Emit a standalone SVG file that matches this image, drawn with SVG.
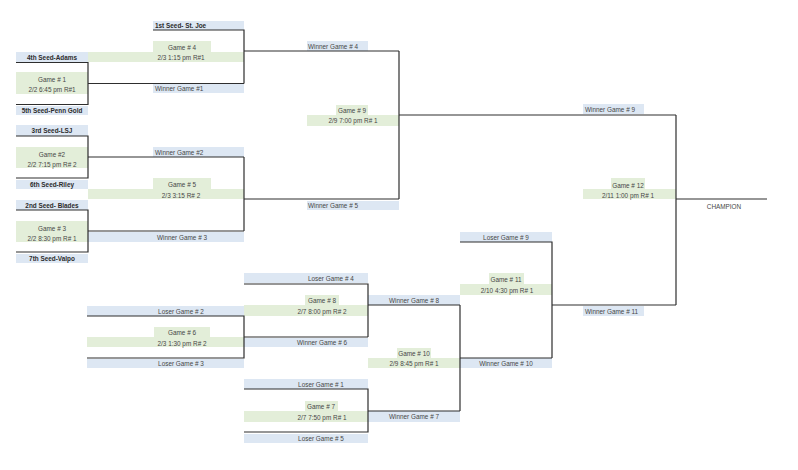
<svg xmlns="http://www.w3.org/2000/svg" width="798" height="470" viewBox="0 0 798 470">
<style>
.b{fill:#dde7f3}
.g{fill:#e3eed9}
text{font-family:"Liberation Sans",Arial,sans-serif;font-size:6.4px;fill:#474747}
.s{font-weight:bold;fill:#2b2b2b}
.c{text-anchor:middle}
.ln{fill:none;stroke:#2e2e2e;stroke-width:1.2}
</style>
<rect width="798" height="470" fill="#ffffff"/>

<!-- seeds -->
<g id="seed-1"><rect class="b" x="153" y="21" width="91" height="9"/><text class="s" x="155" y="28">1st Seed- St. Joe</text></g>
<g id="seed-4"><rect class="b" x="16" y="52" width="72" height="10"/><text class="s c" x="52" y="60">4th Seed-Adams</text></g>
<g id="seed-5"><rect class="b" x="16" y="106" width="72" height="9"/><text class="s c" x="52" y="113.3">5th Seed-Penn Gold</text></g>
<g id="seed-3"><rect class="b" x="16" y="125" width="72" height="11"/><text class="s c" x="52" y="133">3rd Seed-LSJ</text></g>
<g id="seed-6"><rect class="b" x="16" y="180" width="72" height="9"/><text class="s c" x="52" y="187.3">6th Seed-Riley</text></g>
<g id="seed-2"><rect class="b" x="16" y="200" width="72" height="10"/><text class="s c" x="52" y="208">2nd Seed- Blades</text></g>
<g id="seed-7"><rect class="b" x="16" y="254" width="72" height="9"/><text class="s c" x="52" y="261.3">7th Seed-Valpo</text></g>

<!-- slot labels -->
<g id="winner-1"><rect class="b" x="153" y="84" width="91" height="9"/><text x="155" y="91.3">Winner Game #1</text></g>
<g id="winner-2"><rect class="b" x="153" y="147" width="91" height="10"/><text x="155" y="155">Winner Game #2</text></g>
<g id="winner-3"><rect class="b" x="88" y="232" width="156" height="10"/><text class="c" x="182" y="240">Winner Game # 3</text></g>
<g id="winner-4"><rect class="b" x="307" y="41" width="61" height="10"/><text x="308" y="49">Winner Game # 4</text></g>
<g id="winner-5"><rect class="b" x="307" y="201" width="92" height="9"/><text x="308" y="208.3">Winner Game # 5</text></g>
<g id="winner-9"><rect class="b" x="583" y="104" width="61" height="10"/><text x="585" y="112">Winner Game # 9</text></g>
<g id="winner-11"><rect class="b" x="583" y="306" width="61" height="10"/><text x="585" y="314">Winner Game # 11</text></g>
<g id="loser-4"><rect class="b" x="244" y="273" width="124" height="10"/><text x="308" y="281">Loser Game # 4</text></g>
<g id="winner-6"><rect class="b" x="244" y="338" width="124" height="9"/><text class="c" x="322" y="345.3">Winner Game # 6</text></g>
<g id="loser-2"><rect class="b" x="87" y="306" width="157" height="10"/><text class="c" x="181" y="314">Loser Game # 2</text></g>
<g id="loser-3"><rect class="b" x="87" y="359" width="157" height="9"/><text class="c" x="181" y="366.3">Loser Game # 3</text></g>
<g id="loser-1"><rect class="b" x="244" y="379" width="124" height="10"/><text class="c" x="321" y="387">Loser Game # 1</text></g>
<g id="loser-5"><rect class="b" x="244" y="434" width="124" height="9"/><text class="c" x="321" y="441.3">Loser Game # 5</text></g>
<g id="winner-7"><rect class="b" x="368" y="411" width="92" height="11"/><text class="c" x="414" y="419">Winner Game # 7</text></g>
<g id="winner-8"><rect class="b" x="368" y="295" width="92" height="10"/><text class="c" x="414" y="303">Winner Game # 8</text></g>
<g id="loser-9"><rect class="b" x="460" y="232" width="92" height="10"/><text class="c" x="506" y="240">Loser Game # 9</text></g>
<g id="winner-10"><rect class="b" x="460" y="358" width="92" height="10"/><text class="c" x="506" y="366">Winner Game # 10</text></g>

<!-- games -->
<g id="game-1"><rect class="g" x="16" y="72" width="72" height="22"/><text class="c" x="52" y="82">Game # 1</text><text class="c" x="52" y="92">2/2 6:45 pm R#1</text></g>
<g id="game-2"><rect class="g" x="16" y="147" width="72" height="21"/><text class="c" x="52" y="156.5">Game #2</text><text class="c" x="52" y="166.5">2/2 7:15 pm R# 2</text></g>
<g id="game-3"><rect class="g" x="16" y="221" width="72" height="21"/><text class="c" x="52" y="230.5">Game # 3</text><text class="c" x="52" y="240.5">2/2 8:30 pm R# 1</text></g>
<g id="game-4"><rect class="g" x="153" y="41" width="58" height="11"/><rect class="g" x="88" y="52" width="156" height="10"/><text class="c" x="182" y="49.5">Game # 4</text><text class="c" x="181" y="60">2/3 1:15 pm R#1</text></g>
<g id="game-5"><rect class="g" x="153" y="178" width="58" height="11"/><rect class="g" x="88" y="189" width="156" height="10"/><text class="c" x="182" y="187">Game # 5</text><text class="c" x="181" y="197.5">2/3 3:15 R# 2</text></g>
<g id="game-9"><rect class="g" x="336" y="105" width="32" height="10"/><rect class="g" x="307" y="115" width="92" height="11"/><text class="c" x="352" y="113">Game # 9</text><text class="c" x="353" y="123">2/9 7:00 pm R# 1</text></g>
<g id="game-12"><rect class="g" x="611" y="178" width="34" height="11"/><rect class="g" x="583" y="189" width="93" height="10"/><text class="c" x="628" y="187.5">Game # 12</text><text class="c" x="628" y="197.5">2/11 1:00  pm R# 1</text></g>
<g id="game-8"><rect class="g" x="305" y="295" width="34" height="10"/><rect class="g" x="244" y="305" width="124" height="11"/><text class="c" x="322" y="302.5">Game # 8</text><text class="c" x="322" y="313.5">2/7 8:00 pm R# 2</text></g>
<g id="game-6"><rect class="g" x="154" y="327" width="56" height="10"/><rect class="g" x="87" y="337" width="157" height="10"/><text class="c" x="182" y="335">Game # 6</text><text class="c" x="182" y="346">2/3 1:30 pm R# 2</text></g>
<g id="game-7"><rect class="g" x="305" y="401" width="33" height="10"/><rect class="g" x="244" y="411" width="124" height="11"/><text class="c" x="321" y="408.5">Game # 7</text><text class="c" x="322" y="419.5">2/7 7:50 pm R# 1</text></g>
<g id="game-10"><rect class="g" x="397" y="348" width="34" height="10"/><rect class="g" x="368" y="358" width="92" height="10"/><text class="c" x="414" y="356">Game # 10</text><text class="c" x="414" y="366">2/9 8:45 pm R# 1</text></g>
<g id="game-11"><rect class="g" x="489" y="273" width="35" height="11"/><rect class="g" x="460" y="284" width="92" height="11"/><text class="c" x="506" y="282">Game # 11</text><text class="c" x="507" y="292.5">2/10 4:30 pm R# 1</text></g>
<g id="champion"><text class="c" x="724" y="209">CHAMPION</text></g>

<!-- connectors -->
<g id="connectors" class="ln">
<path d="M16,62.5H88V104.5H16"/>
<path d="M88,83.5H244"/>
<path d="M153,30H244V83.5"/>
<path d="M244,51H399"/>
<path d="M16,136H88V178H16"/>
<path d="M88,157H244"/>
<path d="M16,210H88V252H16"/>
<path d="M88,231H244"/>
<path d="M244,157V231"/>
<path d="M244,199H399"/>
<path d="M399,51V199"/>
<path d="M399,115H676"/>
<path d="M676,115V305"/>
<path d="M676,199H767"/>
<path d="M87,316H244V358H87"/>
<path d="M244,337H368"/>
<path d="M244,284H368V337"/>
<path d="M368,305H460"/>
<path d="M244,389H368V432H244"/>
<path d="M368,411H460"/>
<path d="M460,305V411"/>
<path d="M460,358H552"/>
<path d="M460,242H552V358"/>
<path d="M552,305H676"/>
</g>
</svg>
